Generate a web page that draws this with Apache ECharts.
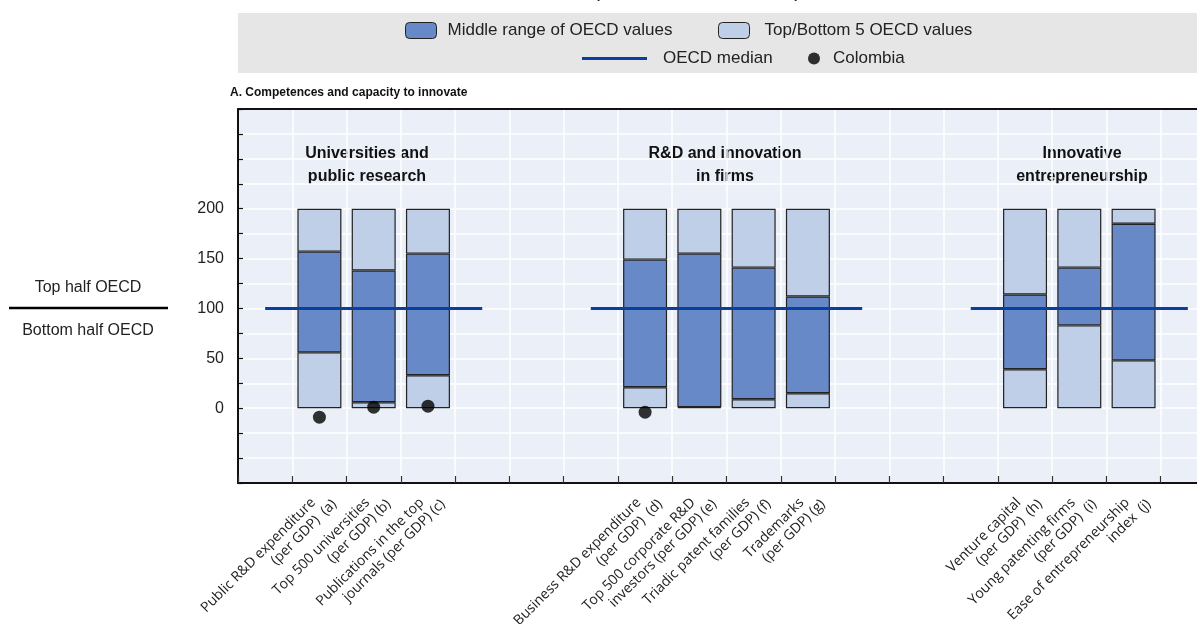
<!DOCTYPE html>
<html>
<head>
<meta charset="utf-8">
<script src="https://cdn.jsdelivr.net/npm/echarts@6/dist/echarts.min.js"></script>
<style>
  html, body { margin: 0; padding: 0; background: #fff; overflow: hidden; }
  #wrap { width: 1197px; height: 624px; overflow: hidden; position: relative; }
  /* the plot runs past the right edge of the picture, as in the original */
  #chart { position: absolute; left: 0; top: 0; width: 1215px; height: 624px; }
</style>
</head>
<body>
<div id="wrap"><div id="chart"></div></div>
<script>
// categories (empty slots are the gaps between groups)
const categories = [
  '',
  'Public R&D expenditure\n(per GDP)  (a)',
  'Top 500 universities\n(per GDP) (b)',
  'Publications in the top\njournals (per GDP) (c)',
  '', '', '',
  'Business R&D expenditure\n(per GDP)  (d)',
  'Top 500 corporate R&D\ninvestors (per GDP) (e)',
  'Triadic patent families\n(per GDP) (f)',
  'Trademarks\n(per GDP) (g)',
  '', '', '',
  'Venture capital\n(per GDP)  (h)',
  'Young patenting firms\n(per GDP)  (i)',
  'Ease of entrepreneurship\nindex  (j)',
  ''
];
// bottom / top of the middle range of OECD values
const midLow  = [null, 56, 6, 33, null, null, null, 21, 1, 9, 15, null, null, null, 39, 83, 48, null];
const midHigh = [null, 157, 138, 155, null, null, null, 149, 155, 141, 112, null, null, null, 114, 141, 185, null];
const rangeMax = 200;
const median = [100, 100, 100, 100, 100, null, 100, 100, 100, 100, 100, 100, null, 100, 100, 100, 100, 100];
const colombia = [null, -9, 1, 2, null, null, null, -4, null, null, null, null, null, null, null, null, null, null];
const yTicks = [0, 50, 100, 150, 200];
const groupTitles = ['Universities and\npublic research', 'R&D and innovation\nin firms', 'Innovative\nentrepreneurship'];

// labels sit a little right of the bar centre: put them on a half-width slot axis
let labelSlots = [];
categories.forEach(c => { labelSlots.push(''); labelSlots.push(c); });

const darkBlue = '#6889c8';
const lightBlue = '#bfcfe8';
const lineBlue = '#0b3f9f';
const narrow = "'Liberation Sans', Arial, sans-serif";
const labelFont = "'Open Sans', sans-serif";

let chart = echarts.init(document.getElementById('chart'));

let barBase = {
  type: 'bar',
  stack: 'range',
  barWidth: 44
};

let legendText = { fontFamily: narrow, fontSize: 17, color: '#222' };

let option = {
  animation: false,
  grid: {
    left: 238, top: 109, right: 0, bottom: 141,
    outerBoundsMode: 'none',
    show: true, backgroundColor: '#eaeff8', borderWidth: 0
  },
  graphic: [
    { type: 'rect', z: 0, shape: { x: 238, y: 13, width: 980, height: 60 }, style: { fill: '#e6e6e6' } },
    { type: 'text', left: 593, top: -19, style: { text: '(OECD median = 100)', font: '21px ' + narrow, fill: '#222' } },
    { type: 'text', left: 230, top: 87, style: { text: 'A. Competences and capacity to innovate', font: 'bold 12px ' + narrow, fill: '#111' } },
    { type: 'text', x: 367, y: 142, style: { text: groupTitles[0], font: 'bold 16px ' + narrow, lineHeight: 23, align: 'center', fill: '#111' } },
    { type: 'text', x: 725, y: 142, style: { text: groupTitles[1], font: 'bold 16px ' + narrow, lineHeight: 23, align: 'center', fill: '#111' } },
    { type: 'text', x: 1082, y: 142, style: { text: groupTitles[2], font: 'bold 16px ' + narrow, lineHeight: 23, align: 'center', fill: '#111' } },
    { type: 'text', x: 88, y: 280, style: { text: 'Top half OECD', font: '16px ' + narrow, align: 'center', fill: '#222' } },
    { type: 'line', shape: { x1: 9, y1: 308, x2: 168, y2: 308 }, style: { stroke: '#000', lineWidth: 2.5 } },
    { type: 'text', x: 88, y: 323, style: { text: 'Bottom half OECD', font: '16px ' + narrow, align: 'center', fill: '#222' } }
  ],
  legend: [
    {
      data: ['Middle range of OECD values'], left: 405, top: 22, padding: 0,
      itemWidth: 31, itemHeight: 16,
      itemStyle: { borderColor: '#222', borderWidth: 1 },
      textStyle: Object.assign({ padding: [0, 0, 0, 6] }, legendText)
    },
    {
      data: ['Top/Bottom 5 OECD values'], left: 718, top: 22, padding: 0,
      itemWidth: 31, itemHeight: 16,
      itemStyle: { borderColor: '#222', borderWidth: 1 },
      textStyle: Object.assign({ padding: [0, 0, 0, 10] }, legendText)
    },
    {
      data: [{ name: 'OECD median', icon: 'rect' }], left: 582, top: 50, padding: 0,
      itemWidth: 65, itemHeight: 3,
      textStyle: Object.assign({ padding: [0, 0, 0, 11] }, legendText)
    },
    {
      data: ['Colombia'], left: 808, top: 50, padding: 0,
      icon: 'circle', itemWidth: 12, itemHeight: 12,
      textStyle: Object.assign({ padding: [0, 0, 0, 8] }, legendText)
    }
  ],
  xAxis: [
    {
      // axis for the marks; drawn on top as the frame line
      type: 'category',
      data: categories,
      position: 'top',
      axisLine: { show: true, onZero: false, lineStyle: { color: '#111', width: 2 } },
      axisTick: { show: false },
      axisLabel: { show: false },
      splitLine: { show: true, interval: 0, lineStyle: { color: '#ffffff', width: 1.5 } }
    },
    {
      // bottom axis with the rotated labels
      type: 'category',
      data: labelSlots,
      position: 'bottom',
      axisLine: { show: true, onZero: false, lineStyle: { color: '#111', width: 2 } },
      axisTick: {
        show: true, inside: true, length: 7,
        interval: function (i) { return i % 2 === 0; },
        lineStyle: { color: '#333', width: 1.2 }
      },
      splitLine: { show: false },
      axisLabel: {
        interval: 0, rotate: 45, margin: 9,
        formatter: function (v) {
          if (!v) return '';
          let parts = v.split('\n');
          return '{a|' + parts[0] + '}\n{b|' + parts[1] + '}';
        },
        rich: {
          a: { fontFamily: labelFont, fontSize: 14, color: '#222', lineHeight: 16, padding: [0, 20, 0, 0] },
          b: { fontFamily: labelFont, fontSize: 14, color: '#222', lineHeight: 16, padding: [0, 6, 0, 0] }
        }
      }
    }
  ],
  yAxis: {
    type: 'value',
    min: -75, max: 300, interval: 25,
    axisLine: { show: true, lineStyle: { color: '#111', width: 2 } },
    axisTick: { show: true, inside: true, length: 5, lineStyle: { color: '#111', width: 1.2 } },
    splitLine: { show: true, lineStyle: { color: '#ffffff', width: 1.5 } },
    axisLabel: {
      margin: 14,
      fontFamily: narrow, fontSize: 16, color: '#222',
      formatter: function (v) { return yTicks.indexOf(v) >= 0 ? String(v) : ''; }
    }
  },
  series: [
    Object.assign({}, barBase, {
      name: 'Top/Bottom 5 OECD values',
      data: midLow,
      itemStyle: { color: lightBlue, borderColor: '#222', borderWidth: 1.2 }
    }),
    Object.assign({}, barBase, {
      name: 'Middle range of OECD values',
      data: midLow.map((v, i) => v === null ? null : midHigh[i] - v),
      itemStyle: { color: darkBlue, borderColor: '#222', borderWidth: 1.2 }
    }),
    Object.assign({}, barBase, {
      name: 'Top/Bottom 5 OECD values',
      data: midHigh.map(v => v === null ? null : rangeMax - v),
      itemStyle: { color: lightBlue, borderColor: '#222', borderWidth: 1.2 }
    }),
    {
      name: 'OECD median',
      type: 'line',
      data: median,
      symbol: 'none',
      connectNulls: false,
      lineStyle: { color: lineBlue, width: 3 },
      itemStyle: { color: lineBlue },
      z: 5
    },
    {
      name: 'Colombia',
      type: 'scatter',
      data: colombia,
      symbol: 'circle',
      symbolSize: 13,
      itemStyle: { color: '#000' },
      z: 6
    }
  ]
};

chart.setOption(option);
</script>
</body>
</html>
